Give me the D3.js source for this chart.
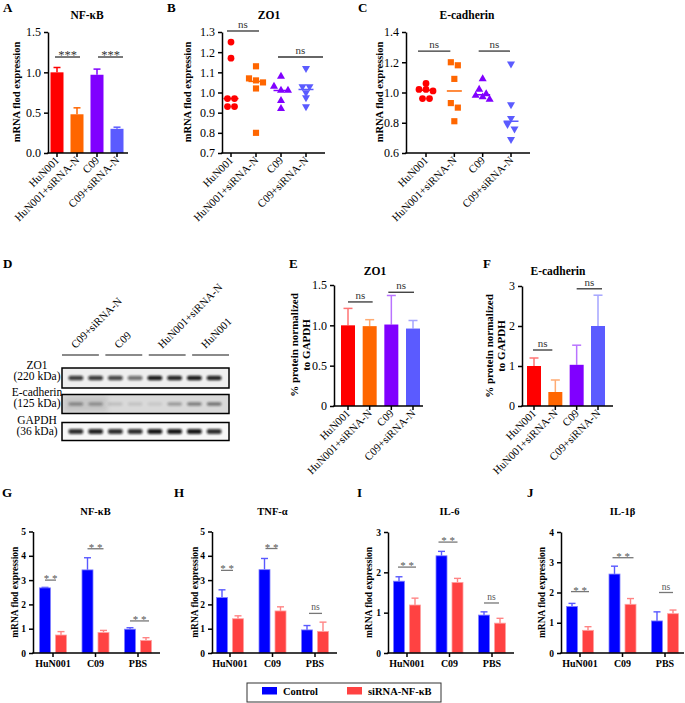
<!DOCTYPE html>
<html lang="en">
<head>
<meta charset="UTF-8">
<title>NF-kB siRNA figure</title>
<style>
  body { margin: 0; background: #fff; }
  svg { display: block; font-family: "Liberation Serif", "Times New Roman", serif; }
</style>
</head>
<body>
<svg id="fig" width="685" height="703"></svg>
<script src="https://cdn.jsdelivr.net/npm/d3@7/dist/d3.min.js"></script>
<script>
// ---- data ----
var groups4 = ["HuN001", "HuN001+siRNA-N", "C09", "C09+siRNA-N"];
var colors4 = ["#ff0000", "#ff6600", "#8000ff", "#5b5bff"];

// A: NF-kB mRNA (mean, upper error)
var nfkbMean = [1.00, 0.48, 0.97, 0.30];
var nfkbErr = [0.06, 0.08, 0.07, 0.02];

// B: ZO1 mRNA, individual points
var zo1Hu = [1.25, 1.17, 0.97, 0.97, 0.93, 0.93];
var zo1HuSi = [1.13, 1.07, 1.06, 1.05, 1.02, 0.80];
var zo1C09 = [1.08, 1.03, 1.01, 1.01, 0.96, 0.92];
var zo1C09Si = [1.12, 1.03, 1.03, 1.00, 0.975, 0.93];

// C: E-cadherin mRNA, individual points
var ecadHu = [1.06, 1.02, 1.02, 1.01, 0.96, 0.96];
var ecadHuSi = [1.20, 1.18, 1.09, 0.93, 0.90, 0.81];
var ecadC09 = [1.09, 1.02, 0.99, 0.98, 0.97, 0.955];
var ecadC09Si = [1.19, 0.92, 0.83, 0.79, 0.76, 0.69];

// D: western blot lanes and band strength (0..1)
var blotGroups = ["C09+siRNA-N", "C09", "HuN001+siRNA-N", "HuN001"];
var blotRows = ["ZO1", "E-cadherin", "GAPDH"];
var blotKda = ["(220 kDa)", "(125 kDa)", "(36 kDa)"];
var zo1Bands = [0.8, 0.8, 0.75, 0.55, 0.95, 0.9, 0.95, 0.9];
var ecadBands = [0.35, 0.3, 0.12, 0.1, 0.08, 0.3, 0.45, 0.5];
var gapdhBands = [0.85, 0.9, 0.85, 0.85, 0.95, 0.95, 0.95, 0.85];

// E, F: protein / GAPDH
var zo1ProtMean = [1.00, 0.99, 1.01, 0.96];
var zo1ProtErr = [0.21, 0.08, 0.36, 0.10];
var ecadProtMean = [1.00, 0.35, 1.03, 2.00];
var ecadProtErr = [0.20, 0.30, 0.49, 0.77];

// G-J: grouped bars
var treatGroups = ["HuN001", "C09", "PBS"];
var seriesNames = ["Control", "siRNA-NF-\u03baB"];
var seriesColors = ["#0000ff", "#ff4242"];
var nfkbCtrl = [2.68, 3.42, 0.98], nfkbCtrlErr = [0.02, 0.50, 0.06];
var nfkbSi = [0.74, 0.84, 0.52], nfkbSiErr = [0.14, 0.09, 0.11];
var tnfCtrl = [2.28, 3.43, 0.95], tnfCtrlErr = [0.32, 0.46, 0.18];
var tnfSi = [1.41, 1.73, 0.89], tnfSiErr = [0.12, 0.17, 0.38];
var il6Ctrl = [1.78, 2.41, 0.94], il6CtrlErr = [0.11, 0.11, 0.08];
var il6Si = [1.19, 1.75, 0.74], il6SiErr = [0.17, 0.10, 0.12];
var il1bCtrl = [1.54, 2.61, 1.06], il1bCtrlErr = [0.10, 0.26, 0.30];
var il1bSi = [0.75, 1.61, 1.30], il1bSiErr = [0.12, 0.19, 0.12];

// ---- drawing ----
var svg = d3.select("#fig");
svg.append("rect").attr("width", 685).attr("height", 703).attr("fill", "#fff");

function light(c, k) { return d3.interpolateRgb(c, "#ffffff")(k); }

function txt(x, y, t, size, weight, anchor, fill) {
  return svg.append("text").attr("x", x).attr("y", y)
    .attr("font-size", size).attr("font-weight", weight || "normal")
    .attr("text-anchor", anchor || "start").attr("fill", fill || "#000").text(t);
}

function yTitle(x, yMid, lines, size) {
  var t = svg.append("text")
    .attr("transform", "translate(" + x + "," + yMid + ") rotate(-90)")
    .attr("text-anchor", "middle").attr("font-weight", "bold").attr("font-size", size);
  lines.forEach(function (l, i) {
    t.append("tspan").attr("x", 0).attr("dy", i ? "1.1em" : 0).text(l);
  });
}

function yAxis(y, x0, ticks, fmt, size, weight) {
  var g = svg.append("g").attr("transform", "translate(" + x0 + ",0)")
    .call(d3.axisLeft(y).tickValues(ticks).tickFormat(fmt).tickSize(4).tickSizeOuter(0));
  g.attr("font-family", null).attr("font-size", size).attr("font-weight", weight || "normal");
  g.selectAll("path, line").attr("stroke", "#000").attr("stroke-width", 1.5);
  g.selectAll("text").attr("fill", "#000");
}

function xAxis(x, cats, y0, x0, x1, size, rotated, weight) {
  svg.append("line").attr("x1", x0 - 0.75).attr("x2", x1).attr("y1", y0).attr("y2", y0)
    .attr("stroke", "#000").attr("stroke-width", 1.5);
  cats.forEach(function (c) {
    svg.append("line").attr("x1", x(c)).attr("x2", x(c)).attr("y1", y0).attr("y2", y0 + 4)
      .attr("stroke", "#000").attr("stroke-width", 1.5);
    if (rotated) {
      svg.append("text").attr("font-size", size).attr("text-anchor", "end")
        .attr("transform", "translate(" + (x(c) + 3) + "," + (y0 + 8) + ") rotate(-45)")
        .text(c);
    } else {
      txt(x(c), y0 + 14, c, size, weight || "normal", "middle");
    }
  });
}

function sig(xa, xb, yp, label, size, lineCol, txtCol, star) {
  svg.append("line").attr("x1", xa).attr("x2", xb).attr("y1", yp).attr("y2", yp)
    .attr("stroke", lineCol).attr("stroke-width", 1.3);
  txt((xa + xb) / 2, star ? yp + 2 : yp - 3, label, star ? size + 1.5 : size, "normal", "middle", txtCol);
}

// A / E / F style: single bars per group with upper error bar
function barPanel(o) {
  var y = d3.scaleLinear().domain(o.domain).range([o.yBase, o.yTop]);
  var x = d3.scalePoint().domain(groups4).range([o.c0, o.c1]);
  groups4.forEach(function (g, i) {
    var m = o.mean[i], e = o.err[i], col = colors4[i];
    var ec = o.lightErr ? light(col, 0.45) : col;
    svg.append("line").attr("x1", x(g)).attr("x2", x(g)).attr("y1", y(m)).attr("y2", y(m + e))
      .attr("stroke", ec).attr("stroke-width", 1.5);
    svg.append("line").attr("x1", x(g) - o.cap / 2).attr("x2", x(g) + o.cap / 2)
      .attr("y1", y(m + e)).attr("y2", y(m + e)).attr("stroke", ec).attr("stroke-width", 1.5);
    svg.append("rect").attr("x", x(g) - o.bw / 2).attr("y", y(m))
      .attr("width", o.bw).attr("height", y(0) - y(m)).attr("fill", col);
  });
  yAxis(y, o.x0, o.ticks, o.fmt, 12);
  xAxis(x, groups4, o.yBase, o.x0, o.xEnd, 11, true);
  o.sigs.forEach(function (s) {
    sig(x(groups4[s[0]]) + s[3], x(groups4[s[1]]) + s[4], y(s[2]), s[5], 11,
      "#333", "#333", s[5] !== "ns");
  });
  return y;
}

// B / C style: individual points with median line
var shapes = [d3.symbolCircle, d3.symbolSquare, d3.symbolTriangle, d3.symbolTriangle];
function swarm(vals, y, spacing, thr) {
  var sorted = vals.slice().sort(d3.descending), out = [], cl = [];
  function flush() {
    var n = cl.length;
    cl.forEach(function (v, i) { out.push({ v: v, dx: (i - (n - 1) / 2) * spacing }); });
    cl = [];
  }
  sorted.forEach(function (v) {
    if (cl.length && Math.abs(y(v) - y(cl[0])) > thr) flush();
    cl.push(v);
  });
  flush();
  return out;
}
function dotPanel(o) {
  var y = d3.scaleLinear().domain(o.domain).range([o.yBase, o.yTop]);
  var x = d3.scalePoint().domain(groups4).range([o.c0, o.c1]);
  o.points.forEach(function (vals, i) {
    var g = groups4[i], col = colors4[i];
    var sz = i === 0 ? 36 : (i === 1 ? 38 : 28);
    swarm(vals, y, 7, 5).forEach(function (p) {
      svg.append("path").attr("d", d3.symbol().type(shapes[i]).size(sz)())
        .attr("transform", "translate(" + (x(g) + p.dx) + "," + y(p.v) + ")" + (i === 3 ? " rotate(180)" : ""))
        .attr("fill", col);
    });
    var med = d3.median(vals);
    svg.append("line").attr("x1", x(g) - 7.5).attr("x2", x(g) + 7.5).attr("y1", y(med)).attr("y2", y(med))
      .attr("stroke", col).attr("stroke-width", 1.5);
  });
  yAxis(y, o.x0, o.ticks, d3.format(".1f"), 12);
  xAxis(x, groups4, o.yBase, o.x0, o.xEnd, 11, true);
  o.sigs.forEach(function (s) {
    sig(x(groups4[s[0]]) + s[3], x(groups4[s[1]]) + s[4], y(s[2]), "ns", 11, "#333", "#333", false);
  });
}

// G-J style: grouped bars
function groupPanel(o) {
  var y = d3.scaleLinear().domain([0, o.max]).range([o.yBase, o.yTop]);
  var x = d3.scalePoint().domain(treatGroups).range([o.c0, o.c1]);
  var series = [[o.ctrl, o.ctrlErr], [o.si, o.siErr]];
  treatGroups.forEach(function (g, i) {
    series.forEach(function (s, k) {
      var cx = x(g) + (k ? 8 : -8), m = s[0][i], e = s[1][i], col = seriesColors[k];
      var ec = light(col, 0.35);
      svg.append("line").attr("x1", cx).attr("x2", cx).attr("y1", y(m)).attr("y2", y(m + e))
        .attr("stroke", ec).attr("stroke-width", 1.4);
      svg.append("line").attr("x1", cx - 3.5).attr("x2", cx + 3.5).attr("y1", y(m + e)).attr("y2", y(m + e))
        .attr("stroke", ec).attr("stroke-width", 1.4);
      svg.append("rect").attr("x", cx - 5.5).attr("y", y(m)).attr("width", 11)
        .attr("height", y(0) - y(m)).attr("fill", col)
        .attr("stroke", light(col, 0.5)).attr("stroke-width", 0.8);
    });
  });
  yAxis(y, o.x0, d3.range(0, o.max + 1), d3.format("d"), 9.5, "bold");
  xAxis(x, treatGroups, o.yBase, o.x0, o.xEnd, 10, false, "bold");
  o.sigs.forEach(function (s, i) {
    var g = treatGroups[i];
    sig(x(g) - 8 + s[1], x(g) + 8 + s[2], y(s[0]), s[3], 9.5, "#777", "#555", s[3] !== "ns");
  });
  txt((o.c0 + o.c1) / 2, 515, o.title, 10.5, "bold", "middle");
  yTitle(o.titleX, (o.yBase + o.yTop) / 2, ["mRNA flod expression"], 9.5);
}

// panel letters
[["A", 3, 12], ["B", 167, 12], ["C", 358, 12], ["D", 3, 268], ["E", 289, 268], ["F", 483, 268],
 ["G", 2, 497], ["H", 174, 497], ["I", 357, 497], ["J", 527, 497]].forEach(function (l) {
  txt(l[1], l[2], l[0], 13, "bold");
});

// A
txt(87, 19, "NF-\u03baB", 11.5, "bold", "middle");
yTitle(20, 92, ["mRNA flod expression"], 10.5);
barPanel({ domain: [0, 1.5], yBase: 153, yTop: 32, x0: 48, xEnd: 128, c0: 57, c1: 117,
  mean: nfkbMean, err: nfkbErr, bw: 13, cap: 7, ticks: [0, 0.5, 1, 1.5], fmt: d3.format(".1f"),
  sigs: [[0, 1, 1.19, -2, 3, "***"], [2, 3, 1.19, 1, 6, "***"]] });

// B
txt(269, 19, "ZO1", 11.5, "bold", "middle");
yTitle(191, 92, ["mRNA flod expression"], 10.5);
dotPanel({ domain: [0.7, 1.3], yBase: 153, yTop: 32, x0: 222, xEnd: 325, c0: 231, c1: 306,
  points: [zo1Hu, zo1HuSi, zo1C09, zo1C09Si], ticks: d3.range(0.7, 1.31, 0.1),
  sigs: [[0, 1, 1.305, -4, 3], [2, 3, 1.176, -3, 17]] });

// C
txt(467, 19, "E-cadherin", 11.5, "bold", "middle");
yTitle(383, 92, ["mRNA flod expression"], 10.5);
dotPanel({ domain: [0.6, 1.4], yBase: 153, yTop: 32, x0: 406, xEnd: 530, c0: 426, c1: 511,
  points: [ecadHu, ecadHuSi, ecadC09, ecadC09Si], ticks: [0.6, 0.8, 1.0, 1.2, 1.4],
  sigs: [[0, 1, 1.274, -8, -4], [2, 3, 1.274, -4, -1]] });

// D: western blot
(function () {
  var bx0 = 62, bx1 = 229;
  var gx = d3.scaleBand().domain(blotGroups).range([bx0, bx1]).paddingInner(0.15);
  var lanes = d3.range(8);
  var lx = d3.scaleBand().domain(lanes).range([66, 224]);
  var rowsY = [[368, 388], [394.5, 413.5], [422.5, 440.5]];
  var rowBg = ["#efefef", "#d9d9d9", "#f7f7f7"];
  var rowBands = [zo1Bands, ecadBands, gapdhBands];
  var bandH = [4.5, 3.5, 5];
  var defs = svg.append("defs");
  defs.append("filter").attr("id", "blur").attr("x", "-30%").attr("y", "-100%")
    .attr("width", "160%").attr("height", "300%")
    .append("feGaussianBlur").attr("stdDeviation", 1.0);
  defs.append("filter").attr("id", "blur2").append("feGaussianBlur").attr("stdDeviation", 2.5);

  blotGroups.forEach(function (g) {
    svg.append("line").attr("x1", gx(g)).attr("x2", gx(g) + gx.bandwidth()).attr("y1", 355).attr("y2", 355)
      .attr("stroke", "#8a8a8a").attr("stroke-width", 1.8);
    svg.append("text").attr("font-size", 11).attr("text-anchor", "start")
      .attr("transform", "translate(" + (gx(g) + gx.bandwidth() / 2 - 5) + ",349) rotate(-45)")
      .text(g);
  });

  blotRows.forEach(function (r, ri) {
    var yy = rowsY[ri];
    svg.append("rect").attr("x", bx0).attr("y", yy[0]).attr("width", bx1 - bx0).attr("height", yy[1] - yy[0])
      .attr("fill", rowBg[ri]);
    if (ri === 1) {
      // darker smudge over the first lanes of the E-cadherin strip
      svg.append("rect").attr("x", lx(0) - 2).attr("y", yy[0] + 2).attr("width", lx.step() * 2.2)
        .attr("height", yy[1] - yy[0] - 4).attr("fill", "#b8b8b8").attr("opacity", 0.6)
        .attr("filter", "url(#blur2)");
    }
    var cy = (yy[0] + yy[1]) / 2;
    rowBands[ri].forEach(function (v, li) {
      svg.append("rect").attr("x", lx(li) + 2.5).attr("y", cy - bandH[ri] / 2)
        .attr("width", lx.bandwidth() - 5).attr("height", bandH[ri]).attr("rx", 2)
        .attr("fill", "#111").attr("opacity", v).attr("filter", "url(#blur)");
    });
    svg.append("rect").attr("x", bx0).attr("y", yy[0]).attr("width", bx1 - bx0).attr("height", yy[1] - yy[0])
      .attr("fill", "none").attr("stroke", "#000").attr("stroke-width", 1.5);
    txt(37, yy[0] + 1, r, 11.5, "normal", "middle");
    txt(37, yy[0] + 12, blotKda[ri], 11.5, "normal", "middle");
  });
})();

// E
txt(375, 275, "ZO1", 11.5, "bold", "middle");
yTitle(298, 345, ["% protein normalized", "to GAPDH"], 11);
barPanel({ domain: [0, 1.5], yBase: 406, yTop: 285, x0: 334, xEnd: 423, c0: 348, c1: 413,
  mean: zo1ProtMean, err: zo1ProtErr, bw: 14, cap: 9, lightErr: true,
  ticks: [0, 0.5, 1, 1.5], fmt: function (d) { return d === 0 ? "0" : d3.format(".1f")(d); },
  sigs: [[0, 1, 1.29, 0, 3, "ns"], [2, 3, 1.41, -3, 1, "ns"]] });

// F
txt(558, 275, "E-cadherin", 11.5, "bold", "middle");
yTitle(493, 346, ["% protein normalized", "to GAPDH"], 11);
barPanel({ domain: [0, 3], yBase: 406, yTop: 286, x0: 522, xEnd: 613, c0: 534, c1: 598,
  mean: ecadProtMean, err: ecadProtErr, bw: 14, cap: 9, lightErr: true,
  ticks: [0, 1, 2, 3], fmt: d3.format("d"),
  sigs: [[0, 1, 1.4, -1, -3, "ns"], [2, 3, 2.93, 0, 4, "ns"]] });

// G-J
groupPanel({ title: "NF-\u03baB", max: 5, yBase: 653, yTop: 531.5, x0: 33, xEnd: 160, c0: 53, c1: 138,
  titleX: 18, ctrl: nfkbCtrl, ctrlErr: nfkbCtrlErr, si: nfkbSi, siErr: nfkbSiErr,
  sigs: [[3.0, 0, -5, "* *"], [4.29, 0, 0, "* *"], [1.32, 0, 3, "* *"]] });
groupPanel({ title: "TNF-\u03b1", max: 5, yBase: 653, yTop: 531.5, x0: 212, xEnd: 337, c0: 230, c1: 315,
  titleX: 198, ctrl: tnfCtrl, ctrlErr: tnfCtrlErr, si: tnfSi, siErr: tnfSiErr,
  sigs: [[3.4, -1, -5, "* *"], [4.3, 1, -3, "* *"], [1.63, 2, -1, "ns"]] });
groupPanel({ title: "IL-6", max: 3, yBase: 653, yTop: 532, x0: 388, xEnd: 514, c0: 407, c1: 492,
  titleX: 372, ctrl: il6Ctrl, ctrlErr: il6CtrlErr, si: il6Si, siErr: il6SiErr,
  sigs: [[2.13, -1, 1, "* *"], [2.75, -3, 0, "* *"], [1.24, 0, -1, "ns"]] });
groupPanel({ title: "IL-1\u03b2", max: 4, yBase: 653, yTop: 532, x0: 561, xEnd: 684, c0: 580, c1: 665,
  titleX: 545, ctrl: il1bCtrl, ctrlErr: il1bCtrlErr, si: il1bSi, siErr: il1bSiErr,
  sigs: [[2.03, -1, 1, "* *"], [3.15, -2, 3, "* *"], [2.0, 2, 0, "ns"]] });

// legend
(function () {
  svg.append("rect").attr("x", 247).attr("y", 683).attr("width", 194).attr("height", 19)
    .attr("fill", "#fff").attr("stroke", "#333").attr("stroke-width", 1);
  var lx = [262, 347];
  seriesNames.forEach(function (n, i) {
    svg.append("rect").attr("x", lx[i]).attr("y", 687).attr("width", 15).attr("height", 7.5)
      .attr("fill", seriesColors[i]);
    txt(lx[i] + 21, 695, n, 10.5, "bold");
  });
})();
</script>
</body>
</html>
